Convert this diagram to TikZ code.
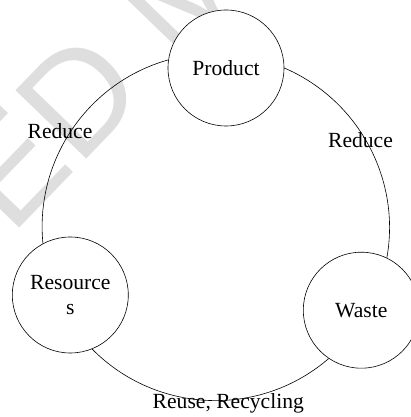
\documentclass[tikz,border=0pt]{standalone}
\usepackage{fontspec}
\setmainfont{Liberation Serif}
\newfontfamily\wmfont{Liberation Sans}
\begin{document}
\begin{tikzpicture}[x=1pt,y=1pt,
  every node/.style={font=\fontsize{21.6}{25}\selectfont},
  stage/.style={circle, draw, fill=white, minimum size=116pt, inner sep=0pt, line width=0.6pt, align=center},
  link/.style={line width=0.6pt},
  lbl/.style={anchor=base, inner sep=0pt},
  wm/.style={text=black!13, font=\wmfont\fontsize{143}{143}\selectfont, rotate=46, inner sep=0pt}]
\useasboundingbox (0,0) rectangle (411,417);
\fill[white] (0,0) rectangle (411,417);
\clip (0,0) rectangle (411,417);
% watermark
\node[wm, anchor=base east] (wm1) at (150,324) {ACCEPTED};
\node[wm, anchor=base west] (wm2) at (177.6,352.6) {MANUSCRIPT};
% stages
\node[stage] (prod) at (226,349) {Product};
\node[stage] (res) at (70.3,122) {Resource\\s};
\node[stage] (waste) at (361.3,106.8) {Waste};
% connectors (arcs of one big circle)
\draw[link] (prod.172) to[out=195.7,in=95.6,looseness=0.964] (res.118);
\draw[link] (res.292) to[out=314.6,in=220.8,looseness=0.984] (waste.236);
\draw[link] (waste.64) to[out=79.8,in=336.7,looseness=0.955] (prod.0);
% labels
\node[lbl] (l1) at (60,278) {Reduce};
\node[lbl] (l2) at (360.5,269) {Reduce};
\node[lbl] (l3) at (228.3,8.7) {Reuse, Recycling};
\end{tikzpicture}
\end{document}
